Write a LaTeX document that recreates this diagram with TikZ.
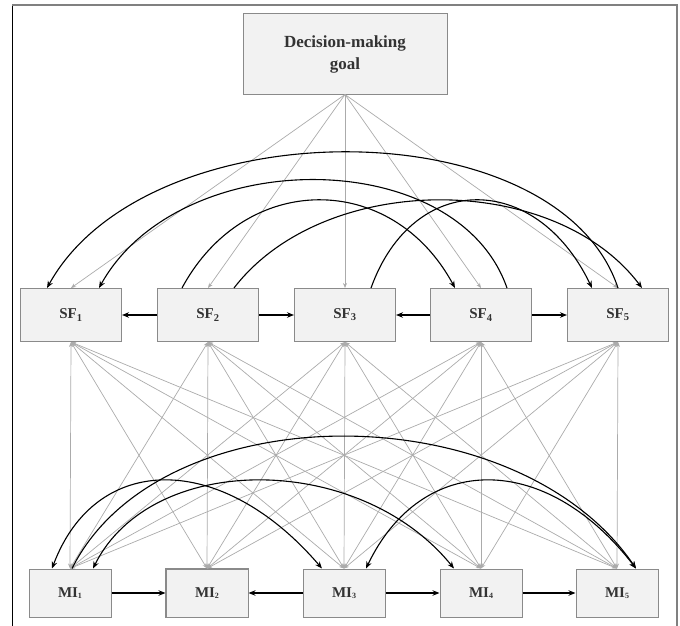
\documentclass[tikz,border=0pt]{standalone}
\usepackage{fontspec}
\setmainfont{Liberation Serif}
\usetikzlibrary{arrows.meta}

\definecolor{boxfill}{HTML}{F2F2F2}
\definecolor{boxline}{HTML}{8A8A8A}
\definecolor{linkgray}{HTML}{ABABAB}

\tikzset{
  sfbox/.style={draw=boxline, fill=boxfill, line width=1pt, minimum width=101pt,
    minimum height=53pt, inner sep=0pt, text=black!80,
    font=\fontsize{15}{18}\selectfont\bfseries},
  mibox/.style={sfbox, minimum width=82pt, minimum height=48pt},
  goalbox/.style={sfbox, minimum width=204pt, minimum height=80pt, align=center,
    font=\fontsize{17}{22}\selectfont\bfseries},
  goallink/.style={draw=linkgray, line width=0.7pt, -{Stealth[length=5pt,width=4pt]}},
  crosslink/.style={draw=linkgray, line width=0.7pt,
    {Stealth[length=5pt,width=4pt]}-{Stealth[length=5pt,width=4pt]}},
  dep/.style={draw=black, line width=1.1pt, -{Stealth[length=7pt,width=5.5pt]}},
  mutual/.style={draw=black, line width=1.1pt,
    {Stealth[length=7pt,width=5.5pt]}-{Stealth[length=7pt,width=5.5pt]}},
}

\begin{document}
\begin{tikzpicture}[x=1pt,y=-1pt]
\useasboundingbox (0,0) rectangle (680,626);
% frame
\draw[black, line width=1pt] (12.5,5) -- (12.5,626);
\draw[gray, line width=2pt] (12,5) -- (677,5) -- (677,626);

% nodes
\node[goalbox] (goal) at (345,54) {Decision-making\\goal};
\foreach \i/\x in {1/71,2/208,3/345,4/481,5/618}
  \node[sfbox] (sf\i) at (\x,315) {SF$_{\mathbf{\i}}$};
\foreach \i/\x in {1/70,2/207,3/344,4/481,5/617}
  \node[mibox] (mi\i) at (\x,593) {MI\raisebox{-1pt}{\fontsize{8}{8}\selectfont\i}};
\draw[boxline, line width=1.8pt] (mi2.north west) rectangle (mi2.south east);

% goal to factors, factors to indicators
\foreach \i in {1,...,5}
  \draw[goallink] (goal.south) -- (sf\i.north);
\foreach \i in {1,...,5}
\foreach \j in {1,...,5}
  \draw[crosslink] (sf\i.south) -- (mi\j.north);

% direct links
\draw[dep] (sf2) -- (sf1);
\draw[dep] (sf2) -- (sf3);
\draw[dep] (sf4) -- (sf3);
\draw[dep] (sf4) -- (sf5);
\draw[dep] (mi1) -- (mi2);
\draw[dep] (mi3) -- (mi2);
\draw[dep] (mi3) -- (mi4);
\draw[dep] (mi4) -- (mi5);

% arcs between factors
\draw[dep] (sf5.north) .. controls +(-60,-181) and +(100,-181) .. ([xshift=-24pt]sf1.north);
\draw[dep] ([xshift=26pt]sf4.north) .. controls +(-50,-144) and +(80,-144) .. ([xshift=28pt]sf1.north);
\draw[dep] ([xshift=-26pt]sf2.north) .. controls +(63,-117) and +(-63,-117) .. ([xshift=-26pt]sf4.north);
\draw[dep] ([xshift=26pt]sf2.north) .. controls +(90,-117) and +(-88,-117) .. ([xshift=24pt]sf5.north);
\draw[dep] ([xshift=26pt]sf3.north) .. controls +(42,-117) and +(-56,-117) .. ([xshift=-26pt]sf5.north);

% arcs between indicators
\draw[dep] ([xshift=2pt]mi1.north) .. controls +(88,-176) and +(-120,-176) .. ([xshift=19pt]mi5.north);
\draw[mutual] ([xshift=-18pt]mi1.north) .. controls +(44,-117) and +(-100,-117) .. ([xshift=-22pt]mi3.north);
\draw[mutual] ([xshift=23pt]mi1.north) .. controls +(58,-117) and +(-95,-117) .. ([xshift=-27pt]mi4.north);
\draw[mutual] ([xshift=22pt]mi3.north) .. controls +(56,-117) and +(-90,-117) .. ([xshift=19pt]mi5.north);
\end{tikzpicture}
\end{document}
